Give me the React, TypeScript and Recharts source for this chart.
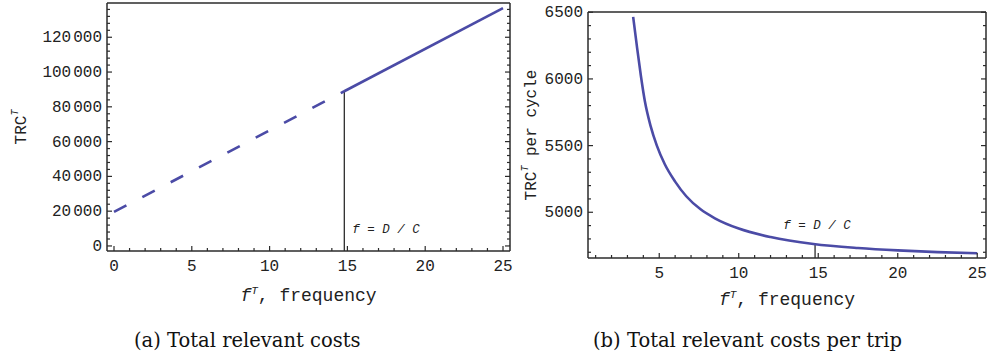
import React from 'react';
import { Line, LineChart, ReferenceDot, XAxis, YAxis } from 'recharts';

// (a) total relevant costs TRC^T vs frequency
const costDashed = [
  { f: 0, trc: 19550 },
  { f: 14.8, trc: 88950 },
];
const costSolid = [
  { f: 14.8, trc: 88950 },
  { f: 25, trc: 136800 },
];
const costMarker = [
  { f: 14.8, trc: -2900 },
  { f: 14.8, trc: 88950 },
];

// (b) total relevant costs per trip
const tripFreq = [3.36, 3.6, 3.85, 4.1, 4.45, 4.85, 5.35, 6.0, 6.7, 7.6, 8.5, 10, 12, 14.7, 17.5, 20, 22.5, 25];
const tripCost = [6465, 6240, 6020, 5830, 5650, 5500, 5360, 5230, 5120, 5022, 4955, 4878, 4814, 4762, 4732, 4714, 4701, 4693];
const tripMarker = [
  { f: 14.8, trc: 4657 },
  { f: 14.8, trc: 4760 },
];

const freqLabelsA = [0, 5, 10, 15, 20, 25];
const freqLabelsB = [5, 10, 15, 20, 25];
const costLabels = [0, 20000, 40000, 60000, 80000, 100000, 120000];
const tripLabels = [5000, 5500, 6000, 6500];

const range = (from: number, to: number, step: number) => {
  const out: number[] = [];
  for (let v = from; v <= to + 1e-9; v += step) out.push(v);
  return out;
};

const tripData = tripFreq.map((f, i) => ({ f, trc: tripCost[i] }));

const LINE = '#4b4ba6';
const FRAME = '#2b2b2b';
const MONO = '"Liberation Mono", "DejaVu Sans Mono", monospace';

type Side = 'bottom' | 'top' | 'left' | 'right';

function thousands(v: number) {
  if (v < 1000) return <tspan>{v}</tspan>;
  const hi = Math.floor(v / 1000);
  const lo = String(v % 1000).padStart(3, '0');
  return (
    <>
      <tspan>{hi}</tspan>
      <tspan dx={2}>{lo}</tspan>
    </>
  );
}

function makeTick(side: Side, majors: number[], labelled: boolean, split = false) {
  return (props: any) => {
    const { x, y, payload } = props;
    const v = payload.value;
    const major = majors.includes(v);
    const len = major ? 5 : 3;
    let line;
    if (side === 'bottom') line = <line x1={x} y1={y} x2={x} y2={y - len} />;
    else if (side === 'top') line = <line x1={x} y1={y} x2={x} y2={y + len} />;
    else if (side === 'left') line = <line x1={x} y1={y} x2={x + len} y2={y} />;
    else line = <line x1={x} y1={y} x2={x - len} y2={y} />;
    return (
      <g>
        <g stroke={FRAME} strokeWidth={1.2}>{line}</g>
        {labelled && major && side === 'bottom' && (
          <text x={x} y={y + 20} textAnchor="middle" fontFamily={MONO} fontSize={16} fill="#222">
            {v}
          </text>
        )}
        {labelled && major && side === 'left' && (
          <text x={x - 5} y={y + 5} textAnchor="end" fontFamily={MONO} fontSize={16} fill="#222">
            {split ? thousands(v) : v}
          </text>
        )}
      </g>
    );
  };
}

const xTitle = (dy: number) => (props: any) => {
  const { viewBox } = props;
  const cx = viewBox.x + viewBox.width / 2;
  return (
    <text x={cx} y={viewBox.y + dy} textAnchor="middle" fontFamily={MONO} fontSize={18} fill="#222">
      <tspan fontStyle="italic">f</tspan>
      <tspan dy={-7} fontSize={11} fontStyle="italic">T</tspan>
      <tspan dy={7}>, frequency</tspan>
    </text>
  );
};

const yTitle = (text: string, cx: number) => (props: any) => {
  const { viewBox } = props;
  const cy = viewBox.y + viewBox.height / 2;
  return (
    <text
      x={cx}
      y={cy}
      transform={`rotate(-90 ${cx} ${cy})`}
      textAnchor="middle"
      dominantBaseline="central"
      fontFamily={MONO}
      fontSize={16}
      fill="#222"
    >
      <tspan>TRC</tspan>
      <tspan dy={-7} fontSize={10} fontStyle="italic">T</tspan>
      <tspan dy={7}>{text}</tspan>
    </text>
  );
};

const markerLabel = (anchor: 'start' | 'middle', dx: number) => (props: any) => {
  const { viewBox } = props;
  return (
    <text
      x={viewBox.x + dx}
      y={viewBox.y}
      textAnchor={anchor}
      fontFamily={MONO}
      fontStyle="italic"
      fontSize={12.5}
      fill="#222"
    >
      f = D / C
    </text>
  );
};

const axisLine = { stroke: FRAME, strokeWidth: 1.5 };

function CostChart() {
  const xDomain: [number, number] = [-0.45, 25.45];
  const yDomain: [number, number] = [-2900, 139700];
  const xTicks = range(0, 25, 1);
  const yTicks = range(0, 136000, 4000);
  return (
    <LineChart width={520} height={320} margin={{ top: 2, right: 9, bottom: 0, left: 0 }}>
      <XAxis
        xAxisId="b"
        dataKey="f"
        type="number"
        domain={xDomain}
        allowDataOverflow
        ticks={xTicks}
        interval={0}
        tickSize={0}
        tickMargin={0}
        tickLine={false}
        axisLine={axisLine}
        height={69}
        tick={makeTick('bottom', freqLabelsA, true)}
        label={xTitle(50)}
      />
      <XAxis
        xAxisId="t"
        orientation="top"
        type="number"
        domain={xDomain}
        allowDataOverflow
        ticks={xTicks}
        interval={0}
        tickSize={0}
        tickMargin={0}
        tickLine={false}
        axisLine={axisLine}
        height={1}
        tick={makeTick('top', freqLabelsA, false)}
      />
      <YAxis
        yAxisId="l"
        type="number"
        domain={yDomain}
        allowDataOverflow
        ticks={yTicks}
        interval={0}
        tickSize={0}
        tickMargin={0}
        tickLine={false}
        axisLine={axisLine}
        width={107}
        tick={makeTick('left', costLabels, true, true)}
        label={yTitle('', 22)}
      />
      <YAxis
        yAxisId="r"
        orientation="right"
        type="number"
        domain={yDomain}
        allowDataOverflow
        ticks={yTicks}
        interval={0}
        tickSize={0}
        tickMargin={0}
        tickLine={false}
        axisLine={axisLine}
        width={1}
        tick={makeTick('right', costLabels, false)}
      />
      <Line
        xAxisId="b"
        yAxisId="l"
        data={costMarker}
        dataKey="trc"
        stroke="#1a1a1a"
        strokeWidth={1.2}
        dot={false}
        isAnimationActive={false}
      />
      <Line
        xAxisId="b"
        yAxisId="l"
        data={costDashed}
        dataKey="trc"
        stroke={LINE}
        strokeWidth={2.6}
        strokeDasharray="14 18"
        dot={false}
        isAnimationActive={false}
      />
      <Line
        xAxisId="b"
        yAxisId="l"
        data={costSolid}
        dataKey="trc"
        stroke={LINE}
        strokeWidth={2.6}
        dot={false}
        isAnimationActive={false}
      />
      <ReferenceDot
        xAxisId="b"
        yAxisId="l"
        x={14.8}
        y={7500}
        r={0}
        fill="none"
        stroke="none"
        label={markerLabel('start', 8)}
      />
    </LineChart>
  );
}

function TripChart() {
  const xDomain: [number, number] = [0.52, 25.55];
  const yDomain: [number, number] = [4657, 6502];
  const xTicks = range(1, 25, 1);
  const yTicks = range(4700, 6500, 100);
  return (
    <LineChart width={497} height={320} margin={{ top: 11, right: 0, bottom: 0, left: 0 }}>
      <XAxis
        xAxisId="b"
        dataKey="f"
        type="number"
        domain={xDomain}
        allowDataOverflow
        ticks={xTicks}
        interval={0}
        tickSize={0}
        tickMargin={0}
        tickLine={false}
        axisLine={axisLine}
        height={62}
        tick={makeTick('bottom', freqLabelsB, true)}
        label={xTitle(47)}
      />
      <XAxis
        xAxisId="t"
        orientation="top"
        type="number"
        domain={xDomain}
        allowDataOverflow
        ticks={xTicks}
        interval={0}
        tickSize={0}
        tickMargin={0}
        tickLine={false}
        axisLine={axisLine}
        height={1}
        tick={makeTick('top', freqLabelsB, false)}
      />
      <YAxis
        yAxisId="l"
        type="number"
        domain={yDomain}
        allowDataOverflow
        ticks={yTicks}
        interval={0}
        tickSize={0}
        tickMargin={0}
        tickLine={false}
        axisLine={axisLine}
        width={98}
        tick={makeTick('left', tripLabels, true)}
        label={yTitle(' per cycle', 42)}
      />
      <YAxis
        yAxisId="r"
        orientation="right"
        type="number"
        domain={yDomain}
        allowDataOverflow
        ticks={yTicks}
        interval={0}
        tickSize={0}
        tickMargin={0}
        tickLine={false}
        axisLine={axisLine}
        width={1}
        tick={makeTick('right', tripLabels, false)}
      />
      <Line
        xAxisId="b"
        yAxisId="l"
        data={tripMarker}
        dataKey="trc"
        stroke="#1a1a1a"
        strokeWidth={1.2}
        dot={false}
        isAnimationActive={false}
      />
      <Line
        xAxisId="b"
        yAxisId="l"
        data={tripData}
        dataKey="trc"
        type="monotone"
        stroke={LINE}
        strokeWidth={2.6}
        dot={false}
        isAnimationActive={false}
      />
      <ReferenceDot
        xAxisId="b"
        yAxisId="l"
        x={14.8}
        y={4878}
        r={0}
        fill="none"
        stroke="none"
        label={markerLabel('middle', 2)}
      />
    </LineChart>
  );
}

const captionStyle: React.CSSProperties = {
  position: 'absolute',
  fontFamily: '"DejaVu Serif", "Liberation Serif", serif',
  fontSize: 19.5,
  fontWeight: 300,
  color: '#111',
  whiteSpace: 'nowrap',
  lineHeight: '20px',
};

export default function App() {
  return (
    <div style={{ position: 'absolute', left: 0, top: 0, width: 987, height: 360, background: '#fff', overflow: 'hidden' }}>
      <div style={{ position: 'absolute', left: 0, top: 0 }}>
        <CostChart />
      </div>
      <div style={{ position: 'absolute', left: 490, top: 0 }}>
        <TripChart />
      </div>
      <div style={{ ...captionStyle, left: 134, top: 331 }}>(a) Total relevant costs</div>
      <div style={{ ...captionStyle, left: 593, top: 331 }}>(b) Total relevant costs per trip</div>
    </div>
  );
}
